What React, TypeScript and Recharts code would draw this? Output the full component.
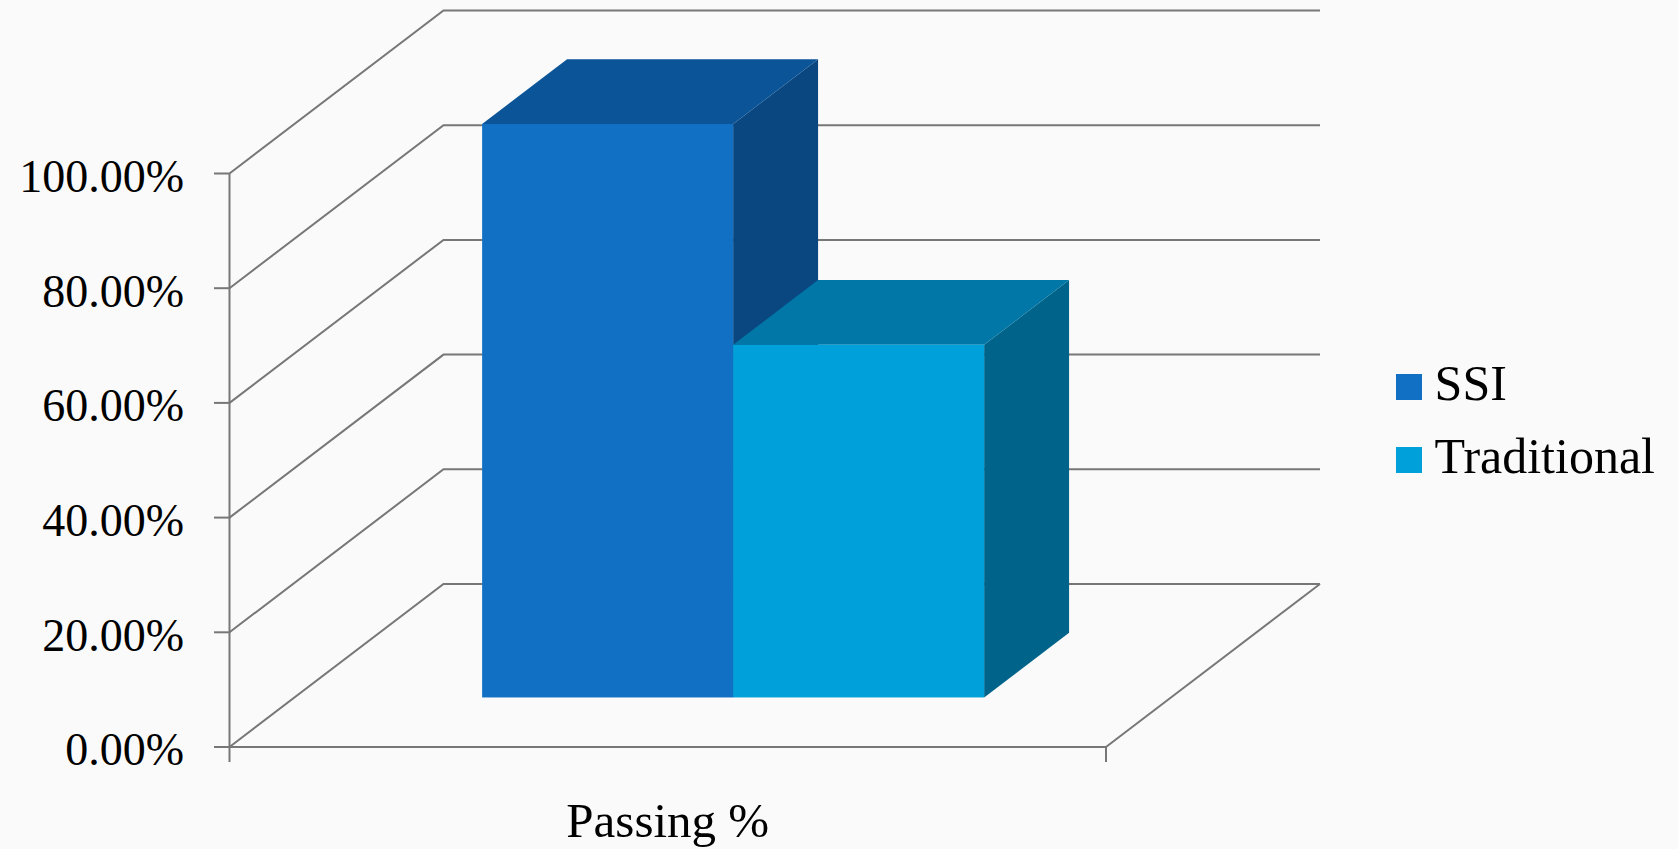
import React from 'react';
import { BarChart, Bar, XAxis, YAxis, CartesianGrid, Legend } from 'recharts';

// ---- data ----
const categories = ['Passing %'];
const ssiValues = [1.0];
const traditionalValues = [0.615];
const yTicks = [0, 0.2, 0.4, 0.6, 0.8, 1.0];
const seriesNames = ['SSI', 'Traditional'];

const data = categories.map((c, i) => ({
  name: c,
  SSI: ssiValues[i],
  Traditional: traditionalValues[i],
}));

// ---- styling / geometry ----
const W = 1678;
const H = 849;
const DEPTH_X = 214; // oblique depth offset of the whole chart
const DEPTH_Y = 163;
const BAR_FRONT = 0.304; // bar front plane position as fraction of depth
const BAR_DEPTH = 0.397; // bar thickness as fraction of depth
const LINE = '#777777';
const FONT = '"Liberation Serif", "Times New Roman", serif';

const COLORS: Record<string, { front: string; top: string; side: string }> = {
  SSI: { front: '#116FC4', top: '#0B5498', side: '#0A4680' },
  Traditional: { front: '#00A0DA', top: '#0077A6', side: '#00648A' },
};

const Box3D = (props: any) => {
  const { x, y, width, height, palette } = props;
  if (width == null || height == null) return null;
  const fx = x + DEPTH_X * BAR_FRONT;
  const fy = y - DEPTH_Y * BAR_FRONT;
  const dx = DEPTH_X * BAR_DEPTH;
  const dy = DEPTH_Y * BAR_DEPTH;
  const top = `M${fx},${fy} L${fx + width},${fy} L${fx + width + dx},${fy - dy} L${fx + dx},${fy - dy} Z`;
  const side = `M${fx + width},${fy} L${fx + width + dx},${fy - dy} L${fx + width + dx},${fy + height - dy} L${fx + width},${fy + height} Z`;
  return (
    <g>
      <path d={side} fill={palette.side} />
      <path d={top} fill={palette.top} />
      <rect x={fx} y={fy} width={width} height={height} fill={palette.front} />
    </g>
  );
};

const gridLine = (p: any) => {
  const { x1, x2, y1, index } = p;
  const isFloor =
    p.y != null && p.height != null ? Math.abs(y1 - (p.y + p.height)) < 1 : index === 0;
  const d = `M${x1},${y1} L${x1 + DEPTH_X},${y1 - DEPTH_Y} L${x2 + DEPTH_X},${y1 - DEPTH_Y}`;
  return (
    <g key={`g-${index}`}>
      <path d={d} fill="none" stroke={LINE} strokeWidth={2} />
      {isFloor && (
        <>
          <path d={`M${x2},${y1} L${x2 + DEPTH_X},${y1 - DEPTH_Y}`} fill="none" stroke={LINE} strokeWidth={2} />
          <path d={`M${x1},${y1} L${x2},${y1}`} fill="none" stroke={LINE} strokeWidth={2} />
          <path d={`M${x1},${y1} L${x1},${y1 + 15}`} fill="none" stroke={LINE} strokeWidth={2} />
          <path d={`M${x2},${y1} L${x2},${y1 + 15}`} fill="none" stroke={LINE} strokeWidth={2} />
        </>
      )}
    </g>
  );
};

const YTick = (props: any) => {
  const { x, y, payload } = props;
  return (
    <text x={x} y={y} dy="0.4em" textAnchor="end" fontFamily={FONT} fontSize={46} fill="#000">
      {(payload.value * 100).toFixed(2)}%
    </text>
  );
};

const XTick = (props: any) => {
  const { x, y, payload } = props;
  return (
    <text x={x} y={y + 90} textAnchor="middle" fontFamily={FONT} fontSize={49} fill="#000">
      {payload.value}
    </text>
  );
};

const renderLegend = () => (
  <div style={{ fontFamily: FONT, fontSize: 50, color: '#000' }}>
    {seriesNames.map((n) => (
      <div key={n} style={{ display: 'flex', alignItems: 'center', height: 73.3 }}>
        <span
          style={{
            display: 'inline-block',
            width: 26,
            height: 26,
            background: COLORS[n].front,
            marginRight: 13,
            flex: 'none',
          }}
        />
        <span style={{ lineHeight: 1, position: 'relative', top: -4, whiteSpace: 'nowrap' }}>{n}</span>
      </div>
    ))}
  </div>
);

export default function App() {
  return (
    <div style={{ width: W, height: H }}>
      <style>{'body{margin:0;background:#fafafa;}'}</style>
      <BarChart
        width={W}
        height={H}
        data={data}
        margin={{ top: 173.5, right: 572, left: 0, bottom: 42 }}
        barCategoryGap="21.4%"
        barGap={0}
      >
        <CartesianGrid vertical={false} horizontal={gridLine} />
        <XAxis
          dataKey="name"
          height={60}
          axisLine={{ stroke: LINE, strokeWidth: 2 }}
          tickLine={false}
          tickSize={0}
          tickMargin={0}
          tick={<XTick />}
        />
        <YAxis
          type="number"
          domain={[0, 1]}
          ticks={yTicks}
          interval={0}
          width={229.5}
          axisLine={{ stroke: LINE, strokeWidth: 2 }}
          tickLine={{ stroke: LINE, strokeWidth: 2 }}
          tickSize={15.5}
          tickMargin={30}
          tick={<YTick />}
        />
        <Legend
          layout="vertical"
          align="center"
          verticalAlign="middle"
          content={renderLegend}
          wrapperStyle={{ position: 'absolute', left: 1395.6, top: 350, width: 282, height: 150 }}
        />
        <Bar
          dataKey="SSI"
          fill={COLORS.SSI.front}
          isAnimationActive={false}
          shape={(p: any) => <Box3D {...p} palette={COLORS.SSI} />}
        />
        <Bar
          dataKey="Traditional"
          fill={COLORS.Traditional.front}
          isAnimationActive={false}
          shape={(p: any) => <Box3D {...p} palette={COLORS.Traditional} />}
        />
      </BarChart>
    </div>
  );
}
